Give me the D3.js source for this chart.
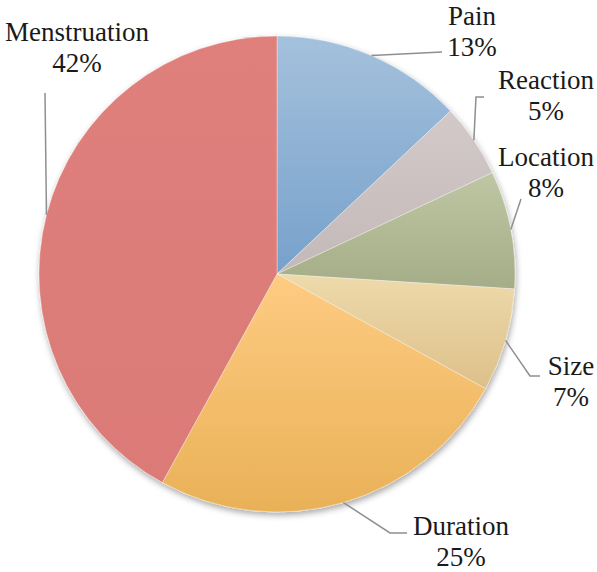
<!DOCTYPE html>
<html><head><meta charset="utf-8"><script src="https://cdn.jsdelivr.net/npm/d3@7"></script></head>
<body style="margin:0"><svg id="chart" width="597" height="572"></svg>
<script>
// ---- data ----
const categories = ["Pain", "Reaction", "Location", "Size", "Duration", "Menstruation"];
const values = [13, 5, 8, 7, 25, 42];
const percentLabels = ["13%", "5%", "8%", "7%", "25%", "42%"];

// ---- styles ----
const colorTop = ["#a4c1dc", "#d2c9c8", "#bec6a3", "#eedaab", "#fecb82", "#df807d"];
const colorBottom = ["#77a1cb", "#c3b9b8", "#a4ad87", "#dcc08a", "#e9b157", "#db7a77"];

// ---- layout (label placement relative to chart) ----
const labelLayout = [
  { tx: 472, ty: 25,  pts: [[442, 52]] },
  { tx: 546, ty: 89,  pts: [[476, 97], [484, 97]] },
  { tx: 546, ty: 166, pts: [[521, 199]] },
  { tx: 571, ty: 375, pts: [[530, 376], [540, 376]] },
  { tx: 461, ty: 535, pts: [[390, 533], [407, 533]] },
  { tx: 77,  ty: 41,  pts: [[45, 93]] }
];

const cx = 277, cy = 274, R = 238, lineGap = 31;

const svg = d3.select("#chart");

const labelRows = [];
categories.forEach((c, i) => {
  labelRows.push({ txt: c, x: labelLayout[i].tx, y: labelLayout[i].ty });
  labelRows.push({ txt: percentLabels[i], x: labelLayout[i].tx, y: labelLayout[i].ty + lineGap });
});

const defs = svg.append("defs");
const f = defs.append("filter").attr("id", "shadow")
  .attr("x", "-10%").attr("y", "-10%").attr("width", "120%").attr("height", "120%");
f.append("feDropShadow").attr("dx", 1).attr("dy", 3).attr("stdDeviation", 3)
  .attr("flood-color", "#000").attr("flood-opacity", 0.35);

categories.forEach((c, i) => {
  const g = defs.append("linearGradient").attr("id", "grad" + i)
    .attr("x1", 0).attr("y1", 0).attr("x2", 0).attr("y2", 1);
  g.append("stop").attr("offset", "0%").attr("stop-color", colorTop[i]);
  g.append("stop").attr("offset", "100%").attr("stop-color", colorBottom[i]);
});

const pie = d3.pie().sort(null).value(d => d)(values);
const arc = d3.arc().innerRadius(0).outerRadius(R);

const gPie = svg.append("g").attr("transform", `translate(${cx},${cy})`)
  .attr("filter", "url(#shadow)");

gPie.selectAll("path").data(pie).join("path")
  .attr("d", arc)
  .attr("fill", (d, i) => `url(#grad${i})`)
  .attr("stroke", "rgba(255,255,255,0.45)")
  .attr("stroke-width", 0.8);

const midPoint = d => {
  const a = (d.startAngle + d.endAngle) / 2;
  return [cx + R * Math.sin(a), cy - R * Math.cos(a)];
};

const line = d3.line();
svg.append("g").selectAll("path").data(pie).join("path")
  .attr("d", (d, i) => line([midPoint(d), ...labelLayout[i].pts]))
  .attr("fill", "none")
  .attr("stroke", "#8f8f8f")
  .attr("stroke-width", 1.5);

svg.selectAll("text").data(labelRows).join("text")
  .attr("x", d => d.x).attr("y", d => d.y)
  .attr("font-family", "Tinos, 'Nimbus Roman', FreeSerif, 'Liberation Serif', 'Times New Roman'")
  .attr("font-size", 27)
  .attr("text-anchor", "middle")
  .attr("fill", "#1a1a1a")
  .text(d => d.txt);
</script></body></html>
